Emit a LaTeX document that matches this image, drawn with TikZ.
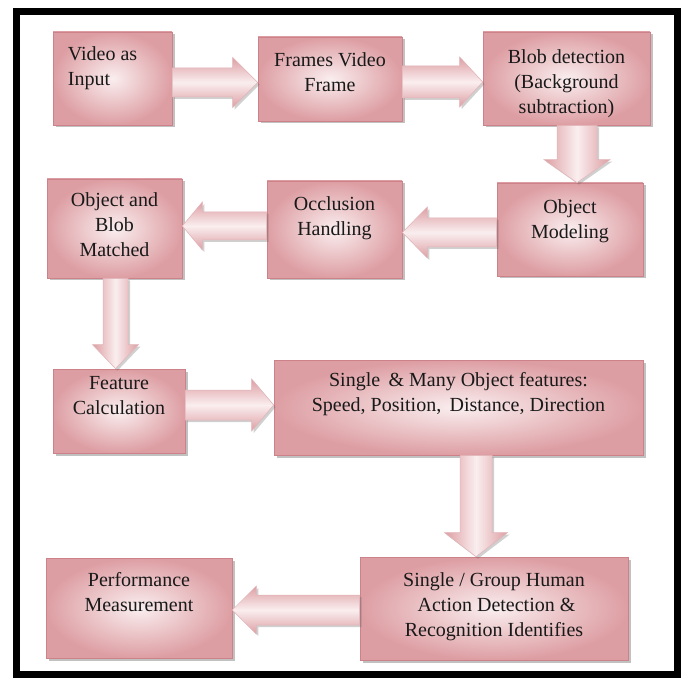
\documentclass[tikz,border=0pt]{standalone}
\usepackage{fontspec}
\setmainfont{Liberation Serif}
\newfontfamily\tnr{Liberation Serif}
\usetikzlibrary{calc,shadows}
\definecolor{pkD}{RGB}{221,158,163}
\definecolor{pkL}{RGB}{250,238,239}
\definecolor{pkB}{RGB}{205,130,137}
\definecolor{txt}{RGB}{25,25,25}
\tikzset{
  box/.style={rectangle, draw=pkB, line width=0.7pt, inner color=pkL, outer color=pkD, inner sep=0pt,
    drop shadow={shadow xshift=2.5pt, shadow yshift=-2.5pt, opacity=0.4, fill=black!60}},
  lbl/.style={font=\tnr\fontsize{20}{25}\selectfont, text=txt, align=center, inner sep=0pt},
  blockarrow/.style={draw=pkB!60, line width=0.5pt,
    drop shadow={shadow xshift=2pt, shadow yshift=-2pt, opacity=0.3, fill=black!60}},
  frame/.style={draw=black, line width=7pt}
}
% horizontal block arrow: tail anchor, tip anchor, centre y, shaft half, head half, head length
\newcommand\harrow[6]{%
  \path[blockarrow, top color=pkD, bottom color=pkD, middle color=pkL]
    let \p1=(#1), \p2=(#2), \n1={sign(\x2-\x1)} in
    (\x1, #3+#4) -- (\x2-\n1*#6, #3+#4) -- (\x2-\n1*#6, #3+#5) -- (\x2, #3)
    -- (\x2-\n1*#6, #3-#5) -- (\x2-\n1*#6, #3-#4) -- (\x1, #3-#4) -- cycle;}
% vertical block arrow: tail anchor, tip anchor, centre x, shaft half, head half, head length
\newcommand\varrow[6]{%
  \path[blockarrow, left color=pkD, right color=pkD, middle color=pkL]
    let \p1=(#1), \p2=(#2), \n1={sign(\y2-\y1)} in
    (#3-#4, \y1) -- (#3-#4, \y2-\n1*#6) -- (#3-#5, \y2-\n1*#6) -- (#3, \y2)
    -- (#3+#5, \y2-\n1*#6) -- (#3+#4, \y2-\n1*#6) -- (#3+#4, \y1) -- cycle;}
\begin{document}
\begin{tikzpicture}[x=1pt, y=1pt]
\useasboundingbox (0,0) rectangle (685,681);
\fill[white] (0,0) rectangle (685,681);
\draw[frame] (16.5,669.5) rectangle (677,6.5);

\node[box, minimum width=119pt, minimum height=93pt,
  label={[lbl, align=left, anchor=north west, xshift=15pt, yshift=-15pt]north west:{Video as\\Input}}] (b1) at (112.5,602.5) {};
\node[box, minimum width=144pt, minimum height=84pt,
  label={[lbl, anchor=north, yshift=-16pt]north:{Frames Video\\Frame}}] (b2) at (330,602) {};
\node[box, minimum width=167pt, minimum height=93pt,
  label={[lbl, anchor=north, yshift=-18pt]north:{Blob detection\\(Background\\subtraction)}}] (b3) at (566.5,602.5) {};
\node[box, minimum width=146pt, minimum height=93pt,
  label={[lbl, anchor=north, yshift=-17pt]north:{Object\\Modeling}}] (b4) at (570,451.5) {};
\node[box, minimum width=135pt, minimum height=97pt,
  label={[lbl, anchor=north, yshift=-16pt]north:{Occlusion\\Handling}}] (b5) at (334.5,451.5) {};
\node[box, minimum width=135pt, minimum height=99pt,
  label={[lbl, anchor=north, yshift=-14pt]north:{Object and\\Blob\\Matched}}] (b6) at (114.5,452.5) {};
\node[box, minimum width=132pt, minimum height=84pt,
  label={[lbl, anchor=north, yshift=-8pt]north:{Feature\\Calculation}}] (b7) at (119,270) {};
\node[box, minimum width=369pt, minimum height=95pt,
  label={[lbl, anchor=north, yshift=-13pt]north:{Single \,\& Many Object features:\\Speed, Position, \,Distance, Direction}}] (b8) at (458.5,273.5) {};
\node[box, minimum width=268pt, minimum height=103pt,
  label={[lbl, anchor=north, yshift=-16pt]north:{Single / Group Human\\\ Action Detection \&\\Recognition Identifies}}] (b9) at (494,72.5) {};
\node[box, minimum width=186pt, minimum height=100pt,
  label={[lbl, anchor=north, yshift=-15pt]north:{Performance\\Measurement}}] (b10) at (139,73) {};

\harrow{b1.east}{b2.west}{598.5}{14.5}{25}{25}
\harrow{b2.east}{b3.west}{599}{16}{25}{23}
\varrow{b3.south}{b4.north}{577}{20}{33}{23}
\harrow{b4.west}{b5.east}{448.5}{14.5}{25.5}{25}
\harrow{b5.west}{b6.east}{455}{14}{24}{20}
\varrow{b6.south}{b7.north}{115.5}{12.5}{23}{24}
\harrow{b7.east}{b8.west}{276}{15}{26}{22}
\varrow{b8.south}{b9.north}{476}{16}{31.5}{24}
\harrow{b9.west}{b10.east}{71}{15}{24}{24}
\end{tikzpicture}
\end{document}
